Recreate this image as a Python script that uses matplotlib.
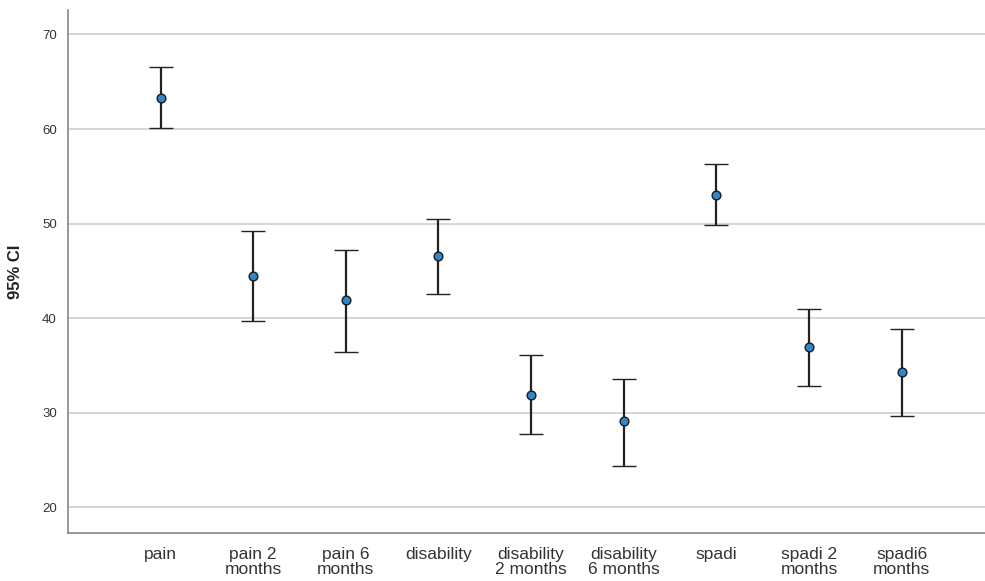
import matplotlib.pyplot as plt
import numpy as np

plt.rcParams['font.family'] = ['Liberation Sans', 'DejaVu Sans']

# Categories and estimated values (mean, lower and upper 95% CI)
labels = ["pain", "pain 2\nmonths", "pain 6\nmonths", "disability",
          "disability\n2 months", "disability\n6 months", "spadi",
          "spadi 2\nmonths", "spadi6\nmonths"]
means = [63.3, 44.5, 41.9, 46.6, 31.9, 29.1, 53.0, 36.9, 34.3]
lower = [60.1, 39.7, 36.4, 42.6, 27.7, 24.4, 49.8, 32.8, 29.6]
upper = [66.6, 49.2, 47.2, 50.5, 36.1, 33.6, 56.3, 41.0, 38.9]

x = np.arange(len(labels))
means = np.array(means)
yerr = [means - np.array(lower), np.array(upper) - means]

fig = plt.figure(figsize=(9.85, 5.81), dpi=100)
ax = fig.add_axes([0.069, 0.083, 0.931, 0.9])

ax.errorbar(x, means, yerr=yerr, fmt='o', color='#222222', ecolor='#222222',
            elinewidth=1.6, capsize=8.6, capthick=1.8,
            markerfacecolor='#2f86c8', markeredgecolor='#1a1a1a',
            markersize=6.3, markeredgewidth=1, zorder=3)

ax.set_xlim(-1, len(labels) - 0.1)
ax.set_ylim(17.3, 72.6)
ax.set_yticks([20, 30, 40, 50, 60, 70])
ax.yaxis.grid(True, color='#cfcfcf', linewidth=1.2)
ax.set_axisbelow(True)

ax.set_xticks(x)
ax.set_xticklabels(labels, fontsize=12.5, color='#333333', linespacing=1.05)
ax.tick_params(axis='y', labelsize=9.5, colors='#333333', length=0, pad=8)
ax.tick_params(axis='x', length=0, pad=10)

for side in ['top', 'right']:
    ax.spines[side].set_visible(False)
for side in ['left', 'bottom']:
    ax.spines[side].set_color('#888888')
    ax.spines[side].set_linewidth(1.2)

ax.set_ylabel("95% CI", fontsize=12, fontweight='bold', color='#222222', labelpad=14)

fig.savefig("out.png", dpi=100)
